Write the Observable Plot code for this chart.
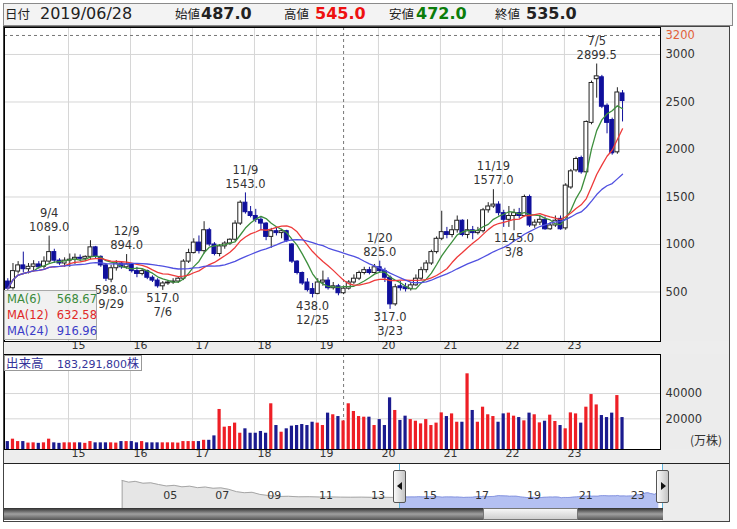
<!DOCTYPE html>
<html><head><meta charset="utf-8">
<script src="https://cdn.jsdelivr.net/npm/d3@7"></script>
<script src="https://cdn.jsdelivr.net/npm/@observablehq/plot@0.6"></script>
<style>
body{margin:0;background:#fff;}
#wrap{position:relative;width:737px;height:529px;overflow:hidden;font-family:"DejaVu Sans",sans-serif;color:#222;}
.abs{position:absolute;}
.cjk{font-family:"Noto Sans CJK JP",sans-serif;}
.h{position:absolute;top:3px;height:22px;line-height:22px;white-space:nowrap;}
.row{position:absolute;left:2px;width:90px;height:15px;line-height:15px;font-size:11.5px;}
.row span.v{position:absolute;right:0;}
</style></head><body>
<div id="wrap">
  <div class="abs" style="left:3px;top:3px;width:730px;height:23px;box-sizing:border-box;border:1px solid #8a8a8a;background:#f3f3f3;"></div>
  <div class="abs" style="left:3px;top:26px;width:727px;height:496px;box-sizing:border-box;border:1px solid #444;background:#fff;"></div>
  <div class="abs" style="left:660px;top:27px;width:69px;height:314px;background:#ececec;"></div>
  <div class="abs" style="left:4px;top:341px;width:725px;height:13px;background:#ededed;"></div>
  <div class="abs" style="left:660px;top:354px;width:69px;height:95px;background:#ececec;"></div>
  <div class="abs" style="left:4px;top:449px;width:725px;height:14px;background:#ededed;"></div>
  <div class="abs" style="left:4px;top:463px;width:725px;height:1px;background:#222;"></div>
  <div class="abs" style="left:662px;top:464px;width:67px;height:57px;background:#ececec;"></div>
  <div id="p1" class="abs" style="left:4px;top:27px;width:725px;height:327px;"></div>
  <div id="p2" class="abs" style="left:4px;top:354px;width:725px;height:109px;"></div>
  <div id="p3" class="abs" style="left:4px;top:464px;width:658px;height:44px;"></div>
  <div id="hdr"></div>
  <div id="malegend" class="abs" style="left:4px;top:290px;width:93px;height:50px;box-sizing:border-box;border:1px solid #a8a8a8;background:rgba(238,238,238,0.85);"></div>
  <div id="vollabel" class="abs" style="left:4px;top:355px;width:138px;height:16px;box-sizing:border-box;border:1px solid #999;background:rgba(255,255,255,0.9);color:#34349a;font-size:11px;line-height:14px;white-space:nowrap;"></div>
  <div class="abs cjk" style="left:690px;top:431px;font-size:12px;color:#333;">(万株)</div>
  <!-- navigator handles & scrollbar -->
  <div class="abs" style="left:399px;top:464px;width:1px;height:44px;background:#5fb4dc;"></div>
  <div class="abs" style="left:662px;top:464px;width:1px;height:44px;background:#5fb4dc;"></div>
  <div class="abs" style="left:393px;top:470px;width:13px;height:33px;box-sizing:border-box;border:1px solid #555;border-radius:2px;background:linear-gradient(to right,#fafafa,#c4c4c4);">
    <div class="abs" style="left:3px;top:11px;width:0;height:0;border-top:4px solid transparent;border-bottom:4px solid transparent;border-right:5px solid #111;"></div></div>
  <div class="abs" style="left:656px;top:470px;width:13px;height:33px;box-sizing:border-box;border:1px solid #555;border-radius:2px;background:linear-gradient(to right,#fafafa,#c4c4c4);">
    <div class="abs" style="left:4px;top:11px;width:0;height:0;border-top:4px solid transparent;border-bottom:4px solid transparent;border-left:5px solid #111;"></div></div>
  <div class="abs" style="left:4px;top:508px;width:659px;height:12px;background:linear-gradient(#2e2e2e,#a0a0a0 50%,#555);"></div>
  <div class="abs" style="left:483px;top:508px;width:95px;height:12px;box-sizing:border-box;border:1px solid #777;background:linear-gradient(#f6f6f6,#cfcfcf);"></div>
</div>
<script>
// ---------------- data (monthly, Jan 2014 .. Dec 2023) ----------------
const startYear = 2014;
const open = [610,540,715,780,740,765,790,765,820,920,830,800,
830,840,860,850,870,970,870,780,630,750,800,760,
790,720,690,720,650,620,560,590,600,610,640,820,
910,1020,930,1150,1000,900,980,1010,1050,1220,1440,1340,
1300,1260,1220,1080,1140,1120,1140,1000,820,700,600,530,
480,600,620,540,560,487,535,600,640,700,730,700,
760,720,650,370,560,550,530,570,640,730,800,920,
1060,1130,1100,1150,1250,1100,1150,1120,1140,1360,1400,1420,
1330,1260,1300,1330,1300,1500,1200,1230,1260,1160,1200,1270,
1170,1600,1780,1910,1760,2280,2740,2760,2460,2310,1970,2590];
const high = [640,800,820,920,800,830,820,870,1089,950,850,860,
900,900,890,880,1040,980,880,800,780,830,820,894,
800,760,740,730,670,640,610,620,640,660,840,950,
1060,1090,1240,1170,1020,1000,1030,1060,1250,1460,1543,1400,
1370,1290,1230,1170,1180,1160,1150,1010,830,710,640,590,
640,720,650,600,580,545,620,680,720,760,760,790,
825,750,670,580,610,590,600,680,760,830,940,1080,
1350,1180,1200,1300,1260,1260,1190,1180,1380,1440,1577,1450,
1360,1400,1370,1380,1520,1520,1260,1300,1290,1230,1300,1300,
1640,1790,1920,1930,2300,2720,2899.5,2780,2480,2330,2650,2620];
const low = [520,520,690,700,690,720,740,740,800,800,780,760,
760,790,820,820,840,850,760,610,598,720,740,740,
700,650,670,630,600,540,517,570,580,590,620,800,
900,900,900,980,880,870,950,990,1030,1200,1320,1280,
1230,1150,1040,960,1090,1060,1020,800,680,570,500,438,
470,560,520,520,460,472,520,580,620,680,680,690,
700,600,317,350,510,500,510,560,620,700,780,900,
1040,1060,1070,1120,1080,1060,1050,1100,1120,1330,1380,1300,
1180,1180,1145,1270,1290,1180,1170,1200,1150,1150,1180,1150,
1150,1580,1760,1740,1740,2260,2540,2430,2165,1940,1950,2290];
const close = [535,720,780,740,765,790,760,820,920,830,800,830,
840,860,850,870,970,870,780,640,750,800,760,790,
720,690,720,650,620,560,590,600,610,640,820,910,
1020,930,1150,1000,900,980,1010,1050,1220,1440,1340,1300,
1260,1220,1080,1140,1120,1140,1040,820,700,590,520,480,
600,620,540,560,487,535,600,640,700,730,700,760,
720,650,370,550,540,530,570,640,730,800,920,1060,
1130,1100,1150,1250,1100,1150,1120,1140,1360,1400,1420,1330,
1260,1300,1330,1300,1500,1200,1230,1260,1160,1200,1250,1160,
1620,1770,1900,1760,2290,2700,2770,2450,2280,1960,2600,2510];
// volume in 万株
const volume = [2000,3900,2000,2000,800,1000,600,1000,3900,1000,600,1000,
1000,1000,1000,600,2000,1000,1000,1000,1000,800,2000,2000,
2000,1000,2000,1000,1000,1000,1000,1000,1000,800,2000,2000,
2000,2000,3000,3000,6500,27400,13400,13900,16600,8600,12100,8600,
8600,10000,8600,31900,14700,9400,12100,14200,14700,15500,14700,17300,
16600,14700,24500,23200,21800,18329.18,31900,25800,21800,21300,21300,14700,
19400,14700,36600,26600,18700,22100,19400,18100,16000,19400,14700,16600,
24700,21800,23900,17300,17300,55600,26600,17300,29200,23200,21800,17300,
23900,24500,22100,21000,18400,24500,23200,16800,18100,22900,17900,14700,
12100,24700,23900,16600,29200,39200,31000,22600,21000,24500,38400,21000];

const yearLabels = ["15","16","17","18","19","20","21","22","23"];
const priceTicks = [500,1000,1500,2000,2500,3000];
const volTicks = [20000,40000];
const highIdx = [8,23,46,72,94,114];
const highDates = ["9/4","12/9","11/9","1/20","11/19","7/5"];
const lowIdx = [20,30,59,74,98];
const lowDates = ["9/29","7/6","12/25","3/23","3/8"];
const crossIdx = 65;            // June 2019 (cursor)
const crossDate = "2019/06/28";
const crossPrice = 3200;
const maNames = ["MA(6)","MA(12)","MA(24)"];
const maValues = ["568.67","632.58","916.96"];
const maPeriods = [6,12,24];
// navigator (long history before 2014)
const navPreYears = [2003.30,2003.55,2003.8,2004.1,2004.4,2004.7,2005.0,2005.3,2005.6,2005.9,2006.2,2006.5,2006.8,2007.1,2007.4,2007.7,2008.0,2008.3,2008.6,2008.9,2009.3,2009.7,2010.1,2010.5,2010.9,2011.3,2011.7,2012.1,2012.5,2012.9,2013.3,2013.7,2014.0];
const navPreValues = [8600,7800,8200,7300,7500,6700,6000,6300,5600,5900,5200,5500,4900,5100,4400,3300,2800,3000,2000,1500,1000,1100,850,900,750,800,700,650,700,600,650,580,535];
const navLabels = ["05","07","09","11","13","15","17","19","21","23"];
const navLabelYears = [2005,2007,2009,2011,2013,2015,2017,2019,2021,2023];

// ---------------- styles / scales ----------------
const BLUE = "#10109c", VRED = "#ee1f26", VBLUE = "#1b1b8f";
const MA_COLORS = ["#3d8f3d","#ee3a3a","#5050e0"];
const MA_TEXT = ["#3a8a3a","#e02828","#3c3cc8"];
const GRID = "#d6d6d6";
const xDomain = [-0.64, 126.35];
const priceDomain = [-21, 3284];
const volDomain = [-4270, 70886];
const navXDomain = [1998.77, 2024.1];
const navYDomain = [-4700, 16200];

const bars = open.map((o,k) => ({k, open:o, high:high[k], low:low[k], close:close[k], volume:volume[k], up: close[k] >= o}));
const yearBounds = yearLabels.map((s,i) => 12*(i+1) - 0.25);
const baseStyle = {background:"transparent", overflow:"visible", fontFamily:"DejaVu Sans", fontSize:"11.5px", color:"#333"};

// ---------------- price panel ----------------
const maMarks = maPeriods.map((p,i) => Plot.lineY(bars, Plot.windowY({k:p, anchor:"end", reduce:"mean"}, {x:"k", y:"close", stroke:MA_COLORS[i], strokeWidth:1.3})));
const price = Plot.plot({
  width:725, height:327, marginTop:0, marginLeft:0, marginRight:69, marginBottom:13,
  x:{domain:xDomain, axis:null}, y:{domain:priceDomain, axis:null},
  style: baseStyle,
  marks:[
    Plot.ruleY(priceTicks, {stroke:GRID, strokeWidth:1}),
    Plot.ruleX(yearBounds, {stroke:GRID, strokeWidth:1}),
    Plot.ruleY([crossPrice], {stroke:"#777", strokeDasharray:"3,3"}),
    Plot.ruleX([crossIdx], {stroke:"#777", strokeDasharray:"3,3"}),
    Plot.ruleX(bars, {x:"k", y1:"low", y2:"high", stroke: d => d.up ? "#222" : BLUE}),
    Plot.rect(bars, {x1: d => d.k - 0.38, x2: d => d.k + 0.38, y1:"open", y2:"close",
      fill: d => d.up ? "#fff" : BLUE, stroke: d => d.up ? "#222" : BLUE, strokeWidth:1}),
    ...maMarks,
    Plot.text(highIdx, {x: d => d, y: d => high[d], text: d => high[d].toFixed(1), dy:-9, fill:"#333", fontSize:11.5}),
    Plot.text(highIdx, {x: d => d, y: d => high[d], text: (d,i) => highDates[i], dy:-23, fill:"#333", fontSize:11.5}),
    Plot.text(lowIdx, {x: d => d, y: d => low[d], text: d => low[d].toFixed(1), dy:8, fill:"#333", fontSize:11.5}),
    Plot.text(lowIdx, {x: d => d, y: d => low[d], text: (d,i) => lowDates[i], dy:22, fill:"#333", fontSize:11.5}),
    Plot.text(priceTicks, {y: d => d, text: d => String(d), frameAnchor:"right", dx:5, textAnchor:"start", fill:"#333", fontSize:11.5}),
    Plot.text([crossPrice], {y: d => d, text: d => String(d), frameAnchor:"right", dx:5, textAnchor:"start", fill:"#e2603a", fontSize:11.5}),
    Plot.text(yearBounds, {x: d => d, text: (d,i) => yearLabels[i], frameAnchor:"bottom", dy:7.5, dx:3, textAnchor:"start", fill:"#333", fontSize:11}),
    Plot.frame({stroke:"#000"})
  ]
});
document.getElementById("p1").append(price);

// ---------------- volume panel ----------------
const vol = Plot.plot({
  width:725, height:109, marginTop:0, marginLeft:0, marginRight:69, marginBottom:14,
  x:{domain:xDomain, axis:null}, y:{domain:volDomain, axis:null},
  style: baseStyle,
  marks:[
    Plot.ruleY(volTicks, {stroke:GRID}),
    Plot.ruleX(yearBounds, {stroke:GRID}),
    Plot.ruleX([crossIdx], {stroke:"#777", strokeDasharray:"3,3"}),
    Plot.rect(bars, {x1: d => d.k - 0.31, x2: d => d.k + 0.31, y1: () => volDomain[0], y2:"volume", fill: d => d.up ? VRED : VBLUE}),
    Plot.text(volTicks, {y: d => d, text: d => String(d), frameAnchor:"right", dx:5, textAnchor:"start", fill:"#333", fontSize:11.5}),
    Plot.text(yearBounds, {x: d => d, text: (d,i) => yearLabels[i], frameAnchor:"bottom", dy:7.5, dx:3, textAnchor:"start", fill:"#333", fontSize:11}),
    Plot.frame({stroke:"#000"})
  ]
});
document.getElementById("p2").append(vol);

// ---------------- navigator ----------------
const navPre = navPreYears.map((y,i) => ({x:y, v:navPreValues[i]}));
const navPost = bars.map(d => ({x: startYear + (d.k + 0.5)/12, v: d.close}));
navPost.unshift({x: startYear, v: close[0]});
const nav = Plot.plot({
  width:658, height:44, margin:0,
  x:{domain:navXDomain, axis:null}, y:{domain:navYDomain, axis:null},
  style: baseStyle,
  marks:[
    Plot.areaY(navPre, {x:"x", y1: () => navYDomain[0], y2:"v", fill:"#e6e6e6"}),
    Plot.lineY(navPre, {x:"x", y:"v", stroke:"#a6a6a6", strokeWidth:1}),
    Plot.ruleX([navPreYears[0]], {y1: navYDomain[0], y2: navPreValues[0], stroke:"#a6a6a6"}),
    Plot.areaY(navPost, {x:"x", y1: () => navYDomain[0], y2:"v", fill:"#b4c0f2"}),
    Plot.lineY(navPost, {x:"x", y:"v", stroke:"#8a98e0", strokeWidth:1}),
    Plot.text(navLabelYears, {x: d => d + 0.15, text: (d,i) => navLabels[i], frameAnchor:"bottom", dy:-10, fill:"#333", fontSize:11})
  ]
});
document.getElementById("p3").append(nav);

// ---------------- header ----------------
const hdr = document.getElementById("hdr");
const f1 = v => v.toFixed(1);
const hdrItems = [
  {t:"日付", x:5, cls:"cjk", size:12.5, w:"normal", c:"#222"},
  {t:crossDate, x:40, cls:"", size:16, w:"normal", c:"#222"},
  {t:"始値", x:175, cls:"cjk", size:12.5, w:"normal", c:"#222"},
  {t:f1(open[crossIdx]), x:201, cls:"", size:16, w:"bold", c:"#222"},
  {t:"高値", x:284, cls:"cjk", size:12.5, w:"normal", c:"#222"},
  {t:f1(high[crossIdx]), x:315, cls:"", size:16, w:"bold", c:"#ee1111"},
  {t:"安値", x:389, cls:"cjk", size:12.5, w:"normal", c:"#222"},
  {t:f1(low[crossIdx]), x:416, cls:"", size:16, w:"bold", c:"#0b7d0b"},
  {t:"終値", x:495, cls:"cjk", size:12.5, w:"normal", c:"#222"},
  {t:f1(close[crossIdx]), x:526, cls:"", size:16, w:"bold", c:"#222"}
];
hdrItems.forEach(it => {
  const s = document.createElement("span");
  s.className = "h " + it.cls;
  s.textContent = it.t;
  s.style.left = it.x + "px";
  s.style.fontSize = it.size + "px";
  s.style.fontWeight = it.w;
  s.style.color = it.c;
  hdr.appendChild(s);
});

// ---------------- MA legend ----------------
const leg = document.getElementById("malegend");
maNames.forEach((n,i) => {
  const r = document.createElement("div");
  r.className = "row";
  r.style.top = (1 + i*16) + "px";
  r.style.color = MA_TEXT[i];
  r.innerHTML = `<span>${n}</span><span class="v">${maValues[i]}</span>`;
  leg.appendChild(r);
});

// ---------------- volume label ----------------
document.getElementById("vollabel").innerHTML =
  `<span class="cjk" style="position:absolute;left:1px;top:0;font-size:12.5px;">出来高</span>` +
  `<span style="position:absolute;left:52px;top:0;">${d3.format(",")(Math.round(volume[crossIdx]*10000))}<span class="cjk" style="font-size:12px;">株</span></span>`;
</script>
</body></html>
